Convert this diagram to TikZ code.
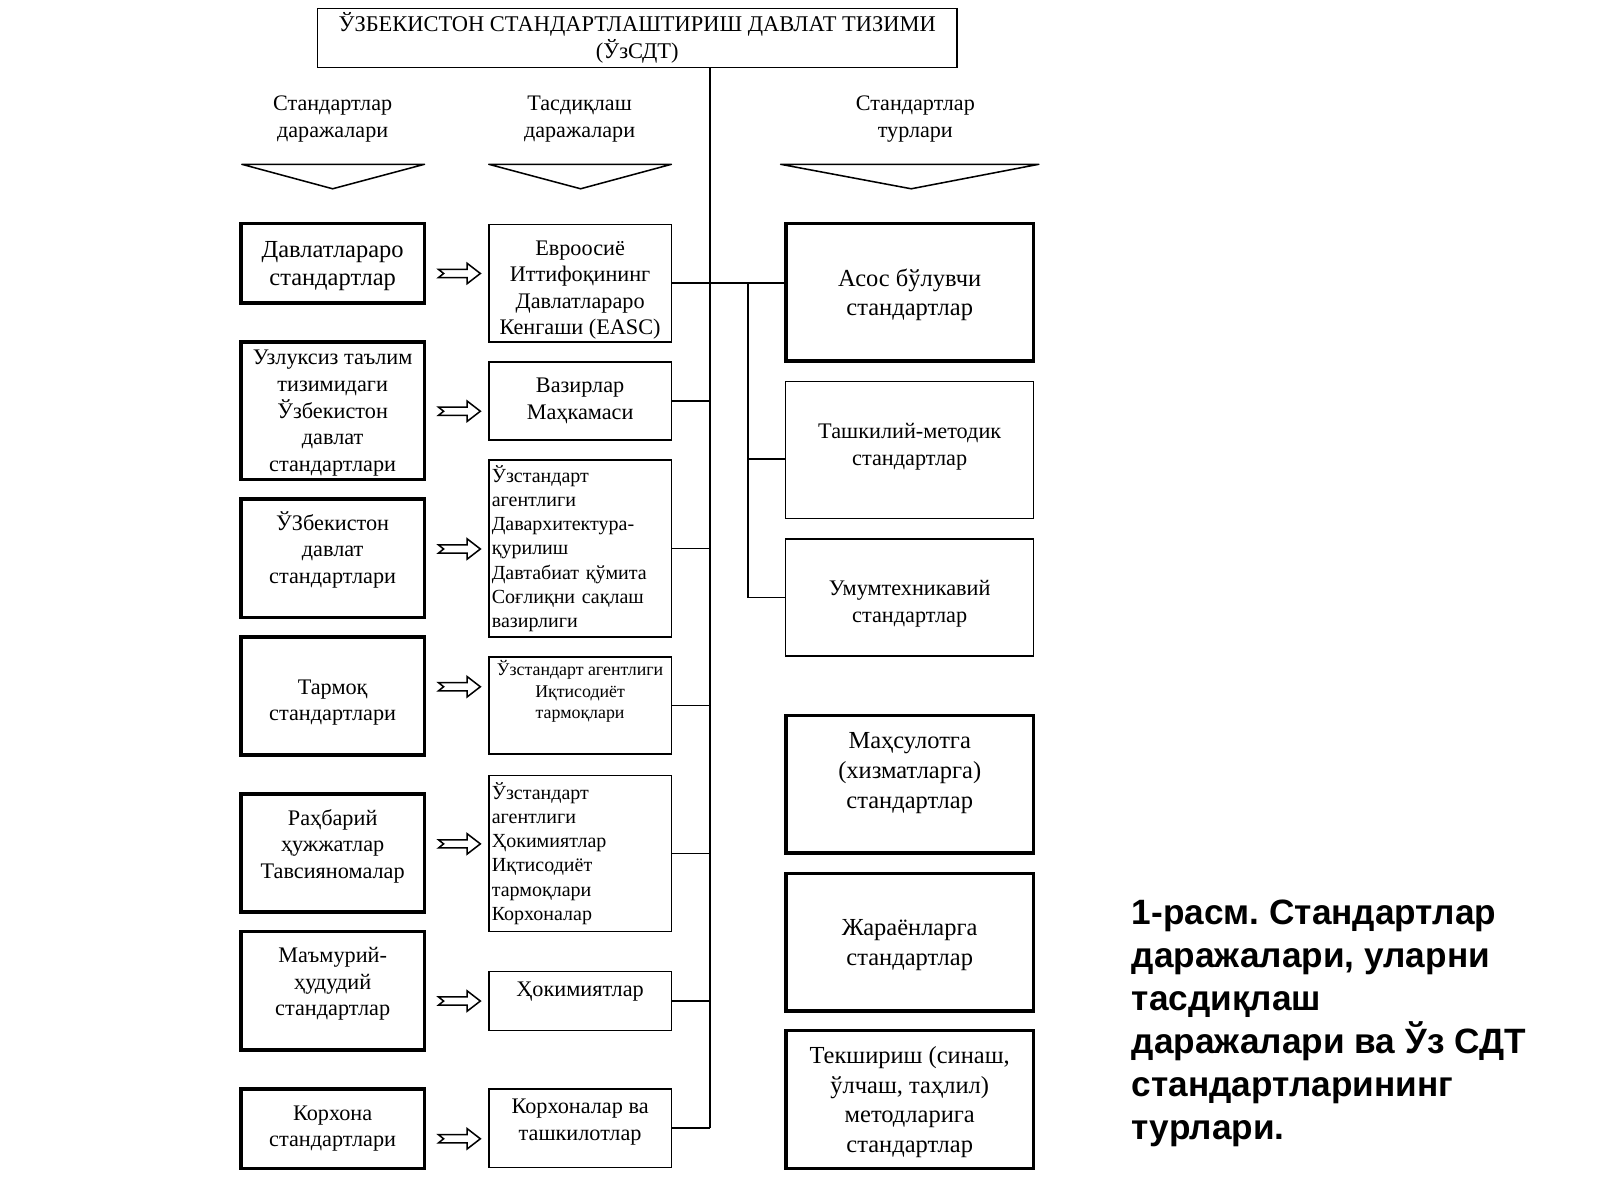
\documentclass[tikz,border=0pt]{standalone}
\usepackage{fontspec}
\setmainfont{Liberation Serif}
\newfontfamily\capfont{Liberation Sans}
\newcommand\fsz[2]{\fontsize{#1}{#2}\selectfont}
\frenchspacing

\begin{document}
\begin{tikzpicture}[x=1pt, y=-1pt,
    lvl/.style = {draw, line width=3.5pt, minimum width=180, align=center, font=\fsz{21.8}{26}},
    org/.style = {draw, line width=1.5pt, minimum width=179, align=center, font=\fsz{21.8}{26}},
    kind/.style = {draw, line width=1.5pt, minimum width=243, minimum height=135, align=center, font=\fsz{21.8}{27}},
    heavy/.style = {line width=3.5pt, font=\fsz{24}{29}},
    lift/.style = {text depth=#1},
    sink/.style = {text height=#1, text depth=0},
    wire/.style = {line width=1.5pt},
    imp/.style = {line width=1.5pt, line join=miter}]
    \useasboundingbox (0,0) rectangle (1568,1176);
    % top and column heads
    \node[draw, line width=1.3pt, minimum width=627, minimum height=58, align=center, font=\fsz{22}{27}] (title) at (624.5,37)
        {ЎЗБЕКИСТОН СТАНДАРТЛАШТИРИШ ДАВЛАТ ТИЗИМИ\\(ЎзСДТ)};
    \node[align=center, font=\fsz{21.7}{26}] (h1) at (326,116.5) {Стандартлар\\даражалари};
    \node[align=center, font=\fsz{21.7}{26}] (h2) at (568,116.5) {Тасдиқлаш\\даражалари};
    \node[align=center, font=\fsz{21.7}{26}] (h3) at (897,116.5) {Стандартлар\\турлари};
    \foreach \a/\b/\c in {237/416/326, 479/658/569, 765/1018/893}
        \draw[line width=1.5pt, line join=round] (\a,161) -- (\b,161) -- (\c,185) -- cycle;
    % levels
    \node[lvl, minimum height=78, font=\fsz{24}{28}, lift=-0.7] (l1) at (326,258) {Давлатлараро\\стандартлар};
    \node[lvl, minimum height=135, lift=-3.2] (l2) at (326,402.5) {Узлуксиз таълим\\тизимидаги\\Ўзбекистон\\давлат\\стандартлари};
    \node[lvl, minimum height=116, lift=21] (l3) at (326,547) {ЎЗбекистон\\давлат\\стандартлари};
    \node[lvl, minimum height=116, sink=48.4] (l4) at (326,682) {Тармоқ\\стандартлари};
    \node[lvl, minimum height=116, lift=18] (l5) at (326,836) {Раҳбарий\\ҳужжатлар\\Тавсияномалар};
    \node[lvl, minimum height=116, lift=18] (l6) at (326,971) {Маъмурий-\\ҳудудий\\стандартлар};
    \node[lvl, minimum height=78] (l7) at (326,1106) {Корхона\\стандартлари};
    % approval
    \node[org, minimum height=115, sink=100.8] (m1) at (568.5,277.5) {Евроосиё\\Иттифоқининг\\Давлатлараро\\Кенгаши (EASC)};
    \node[org, minimum height=76] (m2) at (568.5,393) {Вазирлар\\Маҳкамаси};
    \node[org, minimum height=173, align=left, text width=173, inner xsep=2, font=\fsz{19.6}{23.7}] (m3) at (568.5,537.5)
        {Ўзстандарт\\агентлиги\\Давархитектура-\\қурилиш\\Давтабиат қўмита\\Соғлиқни сақлаш\\вазирлиги};
    \node[org, minimum height=95, font=\fsz{17.5}{21}, lift=31] (m4) at (568.5,691.5) {Ўзстандарт агентлиги\\Иқтисодиёт\\тармоқлари};
    \node[org, minimum height=153, align=left, text width=173, inner xsep=2, font=\fsz{19.6}{23.6}] (m5) at (568.5,836.5)
        {Ўзстандарт\\агентлиги\\Ҳокимиятлар\\Иқтисодиёт\\тармоқлари\\Корхоналар};
    \node[org, minimum height=58, lift=23] (m6) at (568.5,981) {Ҳокимиятлар};
    \node[org, minimum height=77, lift=16] (m7) at (568.5,1105.5) {Корхоналар ва\\ташкилотлар};
    % kinds
    \node[kind, heavy, font=\fsz{24}{28}, lift=0.3] (r1) at (891.5,286.5) {Асос бўлувчи\\стандартлар};
    \node[kind, minimum height=134, lift=11] (r2) at (891.5,441) {Ташкилий-методик\\стандартлар};
    \node[kind, minimum height=115, sink=49.4] (r3) at (891.5,585.5) {Умумтехникавий\\стандартлар};
    \node[kind, heavy, lift=27] (r4) at (891.5,768.5) {Маҳсулотга\\(хизматларга)\\стандартлар};
    \node[kind, heavy, lift=-0.7] (r5) at (891.5,923.5) {Жараёнларга\\стандартлар};
    \node[kind, heavy, lift=0.3] (r6) at (891.5,1077.5) {Текшириш (синаш,\\ўлчаш, таҳлил)\\методларига\\стандартлар};
    % arrows
    \foreach \i/\y in {1/268, 2/403, 3/538, 4/673, 5/827, 6/981, 7/1116}
        \draw[imp] ([xshift=12]l\i.east |- 0,\y) ++(0,-4) -- ++(28,0) -- ++(0,-6) -- ++(13,10)
            -- ++(-13,10) -- ++(0,-6) -- ++(-28,0) -- ++(5,-4) -- cycle;
    % lines
    \coordinate (bus) at (696,0);
    \coordinate (sub) at (733,0);
    \draw[wire] (title.south -| bus) -- (m7.east -| bus);
    \foreach \i in {2,...,7}
        \draw[wire] (m\i.east) -- (m\i.east -| bus);
    \draw[wire] (m1.east) -- (m1.east -| r1.west);
    \draw[wire] (m1.east -| sub) |- (r3.west);
    \draw[wire] (sub |- 0,450) -- (r2.west |- 0,450);
    % caption
    \node[anchor=north west, align=left, inner sep=0, font=\capfont\bfseries\fsz{34.5}{42}] (cap) at (1109,882)
        {1-расм. Стандартлар\\даражалари, уларни\\тасдиқлаш\\даражалари ва Ўз СДТ\\стандартларининг\\турлари.};
\end{tikzpicture}
\end{document}
